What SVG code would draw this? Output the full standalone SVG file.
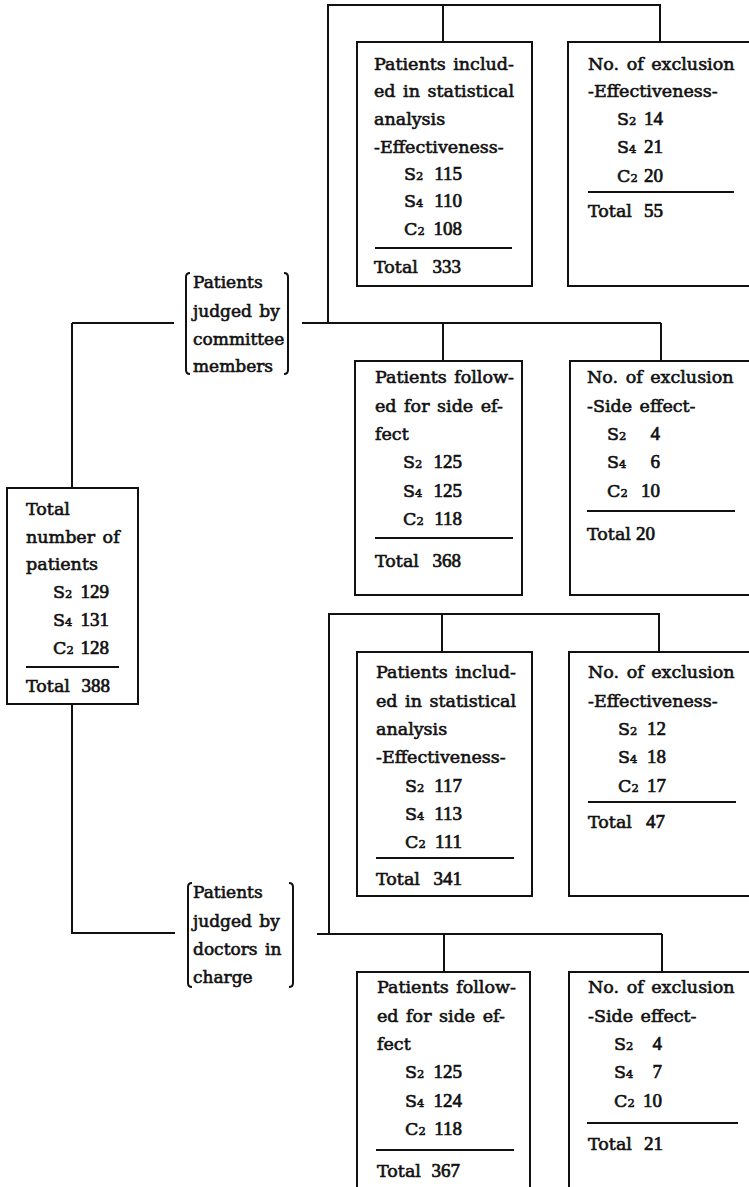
<svg xmlns="http://www.w3.org/2000/svg" width="749" height="1187" viewBox="0 0 749 1187">
<style>
.box{fill:#fff;stroke:#111;stroke-width:2}
.con{fill:none;stroke:#111;stroke-width:2}
.sep{stroke:#111;stroke-width:1.8}
.t{font-family:"DejaVu Serif",serif;font-size:17.5px;fill:#111;stroke:#111;stroke-width:0.6;word-spacing:2px}
.b{font-size:17px}
.n{font-family:"Liberation Serif",serif;font-size:19px;fill:#111;stroke:#111;stroke-width:0.7;text-anchor:end}
.sub{font-size:11.5px}
</style>
<rect width="749" height="1187" fill="#fff"/>
<g id="connectors">
<path class="con" d="M72,323 H174 M72,323 V488 M72,704 V933 H175"/>
<path class="con" d="M302,323 H661 M328,323 V5 H660 V42 M443,5 V42 M443,323 V361 M661,323 V361"/>
<path class="con" d="M317,934 H662 M329,934 V614 H659 V652 M442,614 V652 M444,934 V972 M662,934 V972"/>
</g>
<g id="total">
<rect class="box" x="7" y="488" width="131" height="216"/>
<text class="t" x="26" y="515">Total</text>
<text class="t" x="26" y="543">number of</text>
<text class="t" x="26" y="570">patients</text>
<text class="t" x="53" y="598">S<tspan class="sub">2</tspan></text><text class="n" x="109" y="598">129</text>
<text class="t" x="53" y="626">S<tspan class="sub">4</tspan></text><text class="n" x="109" y="626">131</text>
<text class="t" x="53" y="654">C<tspan class="sub">2</tspan></text><text class="n" x="109" y="654">128</text>
<line class="sep" x1="26" y1="667" x2="119" y2="667"/>
<text class="t" x="26" y="692">Total</text><text class="n" x="110" y="692">388</text>
</g>
<g id="committee">
<path class="con" d="M190,273 Q186,273 186,277 V370 Q186,374 190,374 M284,273 Q288,273 288,277 V370 Q288,374 284,374"/>
<text class="t b" x="193" y="288">Patients</text>
<text class="t b" x="193" y="317">judged by</text>
<text class="t b" x="193" y="345">committee</text>
<text class="t b" x="193" y="372">members</text>
</g>
<g id="doctors">
<path class="con" d="M192,883 Q188,883 188,887 V983 Q188,987 192,987 M289,883 Q293,883 293,887 V983 Q293,987 289,987"/>
<text class="t b" x="193" y="898">Patients</text>
<text class="t b" x="193" y="927">judged by</text>
<text class="t b" x="193" y="955">doctors in</text>
<text class="t b" x="193" y="983">charge</text>
</g>
<g id="c-included">
<rect class="box" x="357" y="42" width="175" height="244"/>
<text class="t" x="374" y="70">Patients includ-</text>
<text class="t" x="374" y="97">ed in statistical</text>
<text class="t" x="374" y="125">analysis</text>
<text class="t" x="374" y="153">-Effectiveness-</text>
<text class="t" x="404" y="180">S<tspan class="sub">2</tspan></text><text class="n" x="462" y="180">115</text>
<text class="t" x="404" y="207">S<tspan class="sub">4</tspan></text><text class="n" x="462" y="207">110</text>
<text class="t" x="404" y="235">C<tspan class="sub">2</tspan></text><text class="n" x="462" y="235">108</text>
<line class="sep" x1="375" y1="248" x2="512" y2="248"/>
<text class="t" x="374" y="273">Total</text><text class="n" x="461" y="273">333</text>
</g>
<g id="c-excl-eff">
<rect class="box" x="568" y="42" width="200" height="244"/>
<text class="t" x="588" y="70">No. of exclusion</text>
<text class="t" x="588" y="97">-Effectiveness-</text>
<text class="t" x="617" y="125">S<tspan class="sub">2</tspan></text><text class="n" x="663" y="125">14</text>
<text class="t" x="617" y="153">S<tspan class="sub">4</tspan></text><text class="n" x="663" y="153">21</text>
<text class="t" x="617" y="182">C<tspan class="sub">2</tspan></text><text class="n" x="663" y="182">20</text>
<line class="sep" x1="588" y1="192" x2="734" y2="192"/>
<text class="t" x="588" y="217">Total</text><text class="n" x="663" y="217">55</text>
</g>
<g id="c-side">
<rect class="box" x="355" y="361" width="167" height="234"/>
<text class="t" x="375" y="383">Patients follow-</text>
<text class="t" x="375" y="412">ed for side ef-</text>
<text class="t" x="375" y="440">fect</text>
<text class="t" x="403" y="468">S<tspan class="sub">2</tspan></text><text class="n" x="462" y="468">125</text>
<text class="t" x="403" y="497">S<tspan class="sub">4</tspan></text><text class="n" x="462" y="497">125</text>
<text class="t" x="403" y="525">C<tspan class="sub">2</tspan></text><text class="n" x="462" y="525">118</text>
<line class="sep" x1="375" y1="538" x2="513" y2="538"/>
<text class="t" x="375" y="567">Total</text><text class="n" x="461" y="567">368</text>
</g>
<g id="c-excl-side">
<rect class="box" x="570" y="361" width="198" height="234"/>
<text class="t" x="587" y="383">No. of exclusion</text>
<text class="t" x="587" y="412">-Side effect-</text>
<text class="t" x="607" y="440">S<tspan class="sub">2</tspan></text><text class="n" x="660" y="440">4</text>
<text class="t" x="607" y="468">S<tspan class="sub">4</tspan></text><text class="n" x="660" y="468">6</text>
<text class="t" x="607" y="497">C<tspan class="sub">2</tspan></text><text class="n" x="660" y="497">10</text>
<line class="sep" x1="587" y1="511" x2="735" y2="511"/>
<text class="t" x="587" y="540">Total</text><text class="n" x="655" y="540">20</text>
</g>
<g id="d-included">
<rect class="box" x="357" y="652" width="175" height="244"/>
<text class="t" x="376" y="678">Patients includ-</text>
<text class="t" x="376" y="707">ed in statistical</text>
<text class="t" x="376" y="735">analysis</text>
<text class="t" x="376" y="763">-Effectiveness-</text>
<text class="t" x="405" y="792">S<tspan class="sub">2</tspan></text><text class="n" x="462" y="792">117</text>
<text class="t" x="405" y="820">S<tspan class="sub">4</tspan></text><text class="n" x="462" y="820">113</text>
<text class="t" x="405" y="848">C<tspan class="sub">2</tspan></text><text class="n" x="462" y="848">111</text>
<line class="sep" x1="376" y1="858" x2="514" y2="858"/>
<text class="t" x="376" y="885">Total</text><text class="n" x="462" y="885">341</text>
</g>
<g id="d-excl-eff">
<rect class="box" x="569" y="652" width="199" height="244"/>
<text class="t" x="588" y="678">No. of exclusion</text>
<text class="t" x="588" y="707">-Effectiveness-</text>
<text class="t" x="618" y="735">S<tspan class="sub">2</tspan></text><text class="n" x="666" y="735">12</text>
<text class="t" x="618" y="763">S<tspan class="sub">4</tspan></text><text class="n" x="666" y="763">18</text>
<text class="t" x="618" y="792">C<tspan class="sub">2</tspan></text><text class="n" x="666" y="792">17</text>
<line class="sep" x1="588" y1="802" x2="736" y2="802"/>
<text class="t" x="588" y="828">Total</text><text class="n" x="665" y="828">47</text>
</g>
<g id="d-side">
<rect class="box" x="357" y="972" width="173" height="240"/>
<text class="t" x="377" y="993">Patients follow-</text>
<text class="t" x="377" y="1022">ed for side ef-</text>
<text class="t" x="377" y="1050">fect</text>
<text class="t" x="405" y="1078">S<tspan class="sub">2</tspan></text><text class="n" x="462" y="1078">125</text>
<text class="t" x="405" y="1107">S<tspan class="sub">4</tspan></text><text class="n" x="462" y="1107">124</text>
<text class="t" x="405" y="1135">C<tspan class="sub">2</tspan></text><text class="n" x="462" y="1135">118</text>
<line class="sep" x1="376" y1="1150" x2="514" y2="1150"/>
<text class="t" x="377" y="1177">Total</text><text class="n" x="460" y="1177">367</text>
</g>
<g id="d-excl-side">
<rect class="box" x="569" y="972" width="199" height="240"/>
<text class="t" x="588" y="993">No. of exclusion</text>
<text class="t" x="588" y="1022">-Side effect-</text>
<text class="t" x="614" y="1050">S<tspan class="sub">2</tspan></text><text class="n" x="662" y="1050">4</text>
<text class="t" x="614" y="1078">S<tspan class="sub">4</tspan></text><text class="n" x="662" y="1078">7</text>
<text class="t" x="614" y="1107">C<tspan class="sub">2</tspan></text><text class="n" x="662" y="1107">10</text>
<line class="sep" x1="587" y1="1123" x2="738" y2="1123"/>
<text class="t" x="588" y="1150">Total</text><text class="n" x="663" y="1150">21</text>
</g>
</svg>
